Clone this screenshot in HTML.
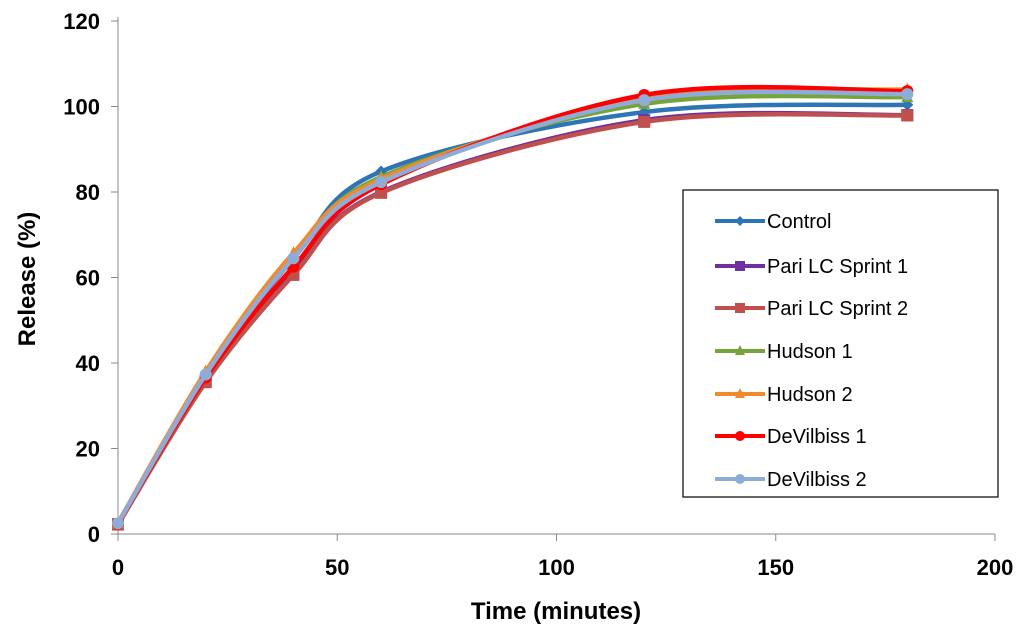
<!DOCTYPE html>
<html><head><meta charset="utf-8"><style>
body{margin:0;background:#fff;width:1024px;height:639px;overflow:hidden}
svg{font-family:"Liberation Sans",Arial,sans-serif}
</style></head><body>
<svg id="chart" width="1024" height="639">
<g id="axes"></g><g id="series"></g><g id="legend"></g>
</svg>
<script>
const times=[0,20,40,60,120,180];
const seriesNames=["Control","Pari LC Sprint 1","Pari LC Sprint 2","Hudson 1","Hudson 2","DeVilbiss 1","DeVilbiss 2"];
const seriesColors=["#2e75b6","#7030a0","#c0504d","#77a33c","#f08a2c","#ff0000","#8eacd6"];
const seriesMarkers=["diamond","square","square","triangle","triangle","circle","circle"];
const control=[2.5,37.2,64.5,84.8,98.7,100.4];
const pari1=[2.3,35.8,61.0,80.0,96.8,98.0];
const pari2=[2.2,35.5,60.6,79.8,96.4,97.9];
const hudson1=[2.5,37.5,64.8,83.5,100.6,102.2];
const hudson2=[2.6,38.0,65.7,83.0,101.8,104.0];
const devil1=[2.4,36.6,62.5,81.8,102.7,103.6];
const devil2=[2.5,37.3,64.5,82.3,101.5,102.9];
const seriesValues=[control,pari1,pari2,hudson1,hudson2,devil1,devil2];
const xTicks=[0,50,100,150,200];
const yTicks=[0,20,40,60,80,100,120];
const NS="http://www.w3.org/2000/svg";
const X0=118,X1=995,Y0=534,Y1=21;
const sx=v=>X0+(X1-X0)*v/200, sy=v=>Y0-(Y0-Y1)*v/120;
function mk(tag,attrs,parent){const e=document.createElementNS(NS,tag);for(const k in attrs)e.setAttribute(k,attrs[k]);parent.appendChild(e);return e;}
const axes=document.getElementById('axes');
let yl=mk('line',{x1:X0,y1:17,x2:X0,y2:Y0,stroke:'#888','stroke-width':1},axes);


let xl=mk('line',{x1:X0,y1:Y0,x2:X1,y2:Y0,stroke:'#888','stroke-width':1},axes);


yTicks.forEach(t=>{mk('line',{x1:X0-7,y1:sy(t),x2:X0,y2:sy(t),stroke:'#888'},axes);
 const tx=mk('text',{x:X0-18,y:sy(t)+8,'text-anchor':'end','font-size':22,'font-weight':'bold',fill:'#000'},axes);tx.textContent=t;
 
 });
xTicks.forEach(t=>{mk('line',{x1:sx(t),y1:Y0,x2:sx(t),y2:Y0+7,stroke:'#888'},axes);
 const tx=mk('text',{x:sx(t),y:575,'text-anchor':'middle','font-size':22,'font-weight':'bold',fill:'#000'},axes);tx.textContent=t;
 
 });
let xt=mk('text',{x:556,y:619,'text-anchor':'middle','font-size':24,'font-weight':'bold'},axes);xt.textContent='Time (minutes)';


let yt=mk('text',{x:0,y:0,'text-anchor':'middle','font-size':24,'font-weight':'bold',transform:'translate(35,279) rotate(-90)'},axes);yt.textContent='Release (%)';


function marker(type,x,y,c,parent,s){
 if(type==='square')return mk('rect',{x:x-s,y:y-s,width:2*s,height:2*s,fill:c},parent);
 if(type==='circle')return mk('circle',{cx:x,cy:y,r:s,fill:c},parent);
 if(type==='triangle')return mk('polygon',{points:`${x},${y-s-1} ${x-s},${y+s-1} ${x+s},${y+s-1}`,fill:c},parent);
 return mk('polygon',{points:`${x},${y-s} ${x+s},${y} ${x},${y+s} ${x-s},${y}`,fill:c},parent);
}
function smooth(pts){let d=`M${pts[0][0]},${pts[0][1]}`;
 for(let i=0;i<pts.length-1;i++){const p0=pts[i-1]||pts[i],p1=pts[i],p2=pts[i+1],p3=pts[i+2]||p2;
 const c1=[p1[0]+(p2[0]-p0[0])/6,p1[1]+(p2[1]-p0[1])/6],c2=[p2[0]-(p3[0]-p1[0])/6,p2[1]-(p3[1]-p1[1])/6];
 d+=` C${c1[0]},${c1[1]} ${c2[0]},${c2[1]} ${p2[0]},${p2[1]}`;}return d;}
const sg=document.getElementById('series');
seriesValues.forEach((vals,i)=>{
 const g=mk('g',{},sg);
 
 
 const pts=times.map((t,j)=>[sx(t),sy(vals[j])]);
 mk('path',{d:smooth(pts),fill:'none',stroke:seriesColors[i],'stroke-width':4.5,'stroke-linejoin':'round'},g);
 pts.forEach(p=>{const m=marker(seriesMarkers[i],p[0],p[1],seriesColors[i],g,6);
  
  });
});
const lg=document.getElementById('legend');


mk('rect',{x:683,y:190,width:315,height:307,fill:'#fff',stroke:'#000','stroke-width':1.2},lg);
const ly=[221,266,308,351,394,436,479];
seriesNames.forEach((n,i)=>{const g=mk('g',{},lg);
 
 
 mk('line',{x1:715,y1:ly[i],x2:765,y2:ly[i],stroke:seriesColors[i],'stroke-width':4},g);
 marker(seriesMarkers[i],740,ly[i],seriesColors[i],g,5);
 const t=mk('text',{x:767,y:ly[i]+7,'font-size':20,fill:'#000'},g);t.textContent=n;});
</script>
</body></html>
